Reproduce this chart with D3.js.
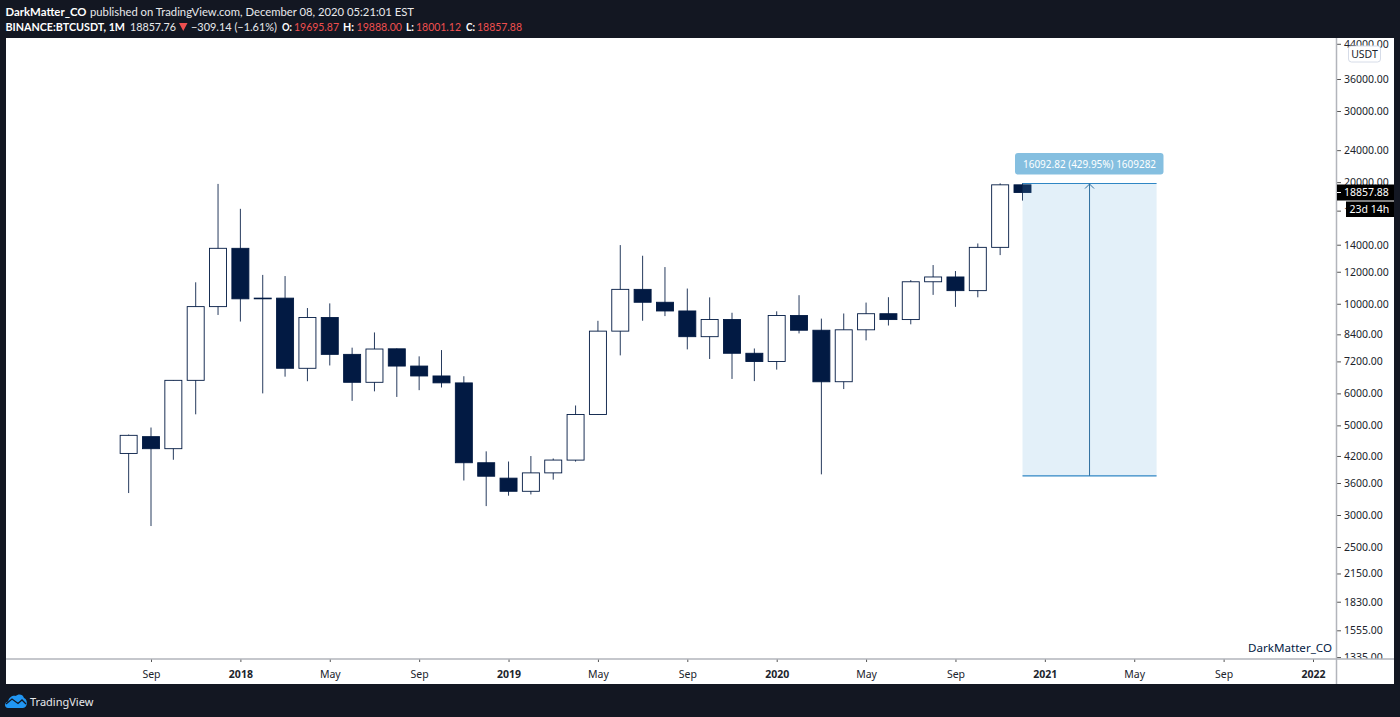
<!DOCTYPE html>
<html><head><meta charset="utf-8">
<script src="https://cdn.jsdelivr.net/npm/d3@7"></script>
<style>
html,body{margin:0;padding:0;background:#131722;overflow:hidden}
svg{display:block}
text{font-family:"Noto Sans",sans-serif}
</style></head><body>
<svg id="c" width="1400" height="717"></svg>
<script>
// Monthly candles, first one is Aug 2017
const opens =[4261,4689,4378,6463,9838,13715,10285,10325,6922,9246,7494,6391,7735,7011,6626,6369,4041,3701,3434,3814,4102,5321,8555,10854,10085,9597,8289,9140,7541,7195,9352,8599,6412,8620,9448,9138,11335,11649,10776,13791,19695.87];
const highs =[4745,4939,6475,11300,19798,17176,11786,11710,9759,10020,7786,8491,7750,7410,7680,6615,4312,4069,4198,4140,5600,9074,13970,13147,12325,10905,10370,9500,7750,9578,10500,9188,9460,10067,10380,11444,12468,12050,14100,19863,19888];
const lows  =[3400,2817,4110,5325,9380,9035,6000,6600,6430,7034,5750,6070,5880,6111,6205,3652,3156,3349,3373,3670,4067,5316,7451,9077,9320,7710,7300,6515,6435,6871,8445,3782,6150,8117,8833,8893,10518,9825,10374,13195,18001.12];
const closes=[4724,4378,6463,9838,13716,10285,10326,6923,9246,7494,6391,7726,7011,6626,6371,4041,3742,3434,3814,4103,5321,8555,10855,10085,9597,8289,9140,7541,7195,9352,8599,6410,8620,9448,9138,11335,11649,10776,13791,19695,18857.88];
const yTicks=[44000,36000,30000,24000,20000,17000,14000,12000,10000,8400,7200,6000,5000,4200,3600,3000,2500,2150,1830,1555,1335];
const xTickIndex=[1,5,9,13,17,21,25,29,33,37,41,45,49,53];
const xTickLabels=["Sep","2018","May","Sep","2019","May","Sep","2020","May","Sep","2021","May","Sep","2022"];
const toolHigh=19842, toolLow=3750, toolFromIndex=40, toolToIndex=46;
const lastPrice="18857.88", countdown="23d 14h", toolLabel="16092.82 (429.95%) 1609282";

const NAVY="#021a43", AXIS="#b2b5bb", TXT="#20242c", HEAD='Lato,sans-serif';
const svg=d3.select("#c");
const x=d3.scaleLinear().domain([1,53]).range([151,1313]);
const y=d3.scaleLog().domain([36000,3000]).range([79,515]);
const bw=17;

svg.append("rect").attr("x",6).attr("y",38).attr("width",1388).attr("height",646).attr("fill","#fff");

const defs=svg.append("defs");
defs.append("clipPath").attr("id","axclip").append("rect").attr("x",1337).attr("y",38).attr("width",57).attr("height",621);

// candles
const g=svg.append("g");
const cs=d3.range(opens.length);
g.selectAll("line.w").data(cs).join("line").attr("class","w")
 .attr("x1",i=>x(i)).attr("x2",i=>x(i)).attr("y1",i=>y(highs[i])).attr("y2",i=>y(lows[i]))
 .attr("stroke",NAVY).attr("stroke-width",1).attr("opacity",.85);
g.selectAll("rect.b").data(cs).join("rect").attr("class","b")
 .attr("x",i=>x(i)-bw/2).attr("width",bw)
 .attr("y",i=>y(Math.max(opens[i],closes[i])))
 .attr("height",i=>Math.max(.5,Math.abs(y(opens[i])-y(closes[i]))))
 .attr("fill",i=>closes[i]>=opens[i]&&i!==6?"#fff":NAVY)
 .attr("stroke",NAVY).attr("stroke-width",.9);

// long-position measure tool
const tx0=x(toolFromIndex), tx1=x(toolToIndex), ty0=y(toolHigh), ty1=y(toolLow), tmid=(tx0+tx1)/2;
const t=svg.append("g");
t.append("rect").attr("x",tx0).attr("y",ty0).attr("width",tx1-tx0).attr("height",ty1-ty0).attr("fill","#5ba8dc").attr("opacity",.17);
t.selectAll("line.e").data([ty0,ty1]).join("line").attr("class","e").attr("x1",tx0).attr("x2",tx1).attr("y1",d=>d).attr("y2",d=>d).attr("stroke","#2f86c4").attr("stroke-width",1.2);
t.append("line").attr("x1",tmid).attr("x2",tmid).attr("y1",ty0).attr("y2",ty1).attr("stroke","#2f6f9f").attr("stroke-width",1);
t.append("path").attr("d",`M${tmid-4.5},${ty0+5}L${tmid},${ty0+.5}L${tmid+4.5},${ty0+5}`).attr("fill","none").attr("stroke","#2f6f9f");
t.append("rect").attr("x",tx0-7.5).attr("y",ty0-30.5).attr("width",148.5).attr("height",21.5).attr("rx",3).attr("fill","#85bfe0");
t.append("text").attr("x",tmid).attr("y",ty0-16).attr("text-anchor","middle").attr("fill","#fff").attr("font-size",10.5).attr("textLength",133).attr("lengthAdjust","spacingAndGlyphs").text(toolLabel);

// y axis
const yAxis=d3.axisRight(y).tickValues(yTicks).tickFormat(d3.format(".2f")).tickSize(4).tickPadding(3);
const ya=svg.append("g").attr("clip-path","url(#axclip)").append("g").attr("transform","translate(1337,0)").call(yAxis);
ya.select(".domain").remove();
ya.selectAll("line").attr("stroke","#555");
ya.selectAll("text").attr("fill",TXT).attr("font-size",10.5).style("font-family",'"Noto Sans",sans-serif');

// x axis
const xAxis=d3.axisBottom(x).tickValues(xTickIndex).tickFormat((d,i)=>xTickLabels[i]).tickSize(3).tickPadding(9);
const xa=svg.append("g").attr("transform","translate(0,659)").call(xAxis);
xa.select(".domain").remove();
xa.selectAll("line").attr("stroke","#555");
xa.selectAll("text").attr("fill",TXT).attr("font-size",10.5).style("font-family",'"Noto Sans",sans-serif')
  .attr("font-weight",(d,i)=>/^\d/.test(xTickLabels[i])?"bold":"normal");

// frame lines
svg.append("line").attr("x1",6).attr("x2",1394).attr("y1",659).attr("y2",659).attr("stroke",AXIS).attr("stroke-width",1.5);
svg.append("line").attr("x1",1336.5).attr("x2",1336.5).attr("y1",38).attr("y2",684).attr("stroke",AXIS).attr("stroke-width",1.5);

// price labels
const pl=svg.append("g");
pl.append("rect").attr("x",1337).attr("y",184.5).attr("width",57).attr("height",16).attr("fill","#000");
pl.append("line").attr("x1",1337).attr("x2",1341).attr("y1",192.5).attr("y2",192.5).attr("stroke","#fff");
pl.append("text").attr("x",1344).attr("y",196).attr("fill","#fff").attr("font-size",10.5).text(lastPrice);
pl.append("rect").attr("x",1346).attr("y",201.5).attr("width",48).attr("height",15.5).attr("fill","#000");
pl.append("text").attr("x",1349.5).attr("y",213).attr("fill","#fff").attr("font-size",10.5).text(countdown);
pl.append("rect").attr("x",1348.5).attr("y",46).attr("width",32).attr("height",16).attr("rx",3).attr("fill","#fff").attr("stroke","#d6dce8");
pl.append("text").attr("x",1364.5).attr("y",58).attr("text-anchor","middle").attr("fill",TXT).attr("font-size",10.5).text("USDT");

// watermark
svg.append("text").attr("x",1332).attr("y",652).attr("text-anchor","end").attr("fill",NAVY).attr("font-size",11.6).text("DarkMatter_CO");

// header
const RED="#ef4f4f", WHITE="#fff", SOFT="#e8e9ec";
const h=svg.append("g").attr("font-size",12);
const head=(px,py,w,txt,fill,bold)=>h.append("text").attr("x",px).attr("y",py).attr("fill",fill).attr("font-weight",bold?"bold":"normal")
  .attr("textLength",w).attr("lengthAdjust","spacingAndGlyphs").style("font-family",HEAD).text(txt);
head(5.5,15.5,81,"DarkMatter_CO",WHITE,true);
head(90,15.5,324,"published on TradingView.com, December 08, 2020 05:21:01 EST",SOFT,false);
head(5.5,31,119.5,"BINANCE:BTCUSDT, 1M",WHITE,true);
head(130,31,46,"18857.76",SOFT,false);
h.append("path").attr("d","M179,23L187.5,23L183.25,31Z").attr("fill",RED);
head(191,31,86,"−309.14 (−1.61%)",SOFT,false);
[["O:",282,10,"19695.87",294,45],["H:",343,11,"19888.00",356.5,45.5],["L:",406,8,"18001.12",416,45],["C:",466,9,"18857.88",477,45]].forEach(([a,ax,aw,b,bx,bw2])=>{
  head(ax,31,aw,a,WHITE,true); head(bx,31,bw2,b,RED,false);
});

// footer logo
const lg=svg.append("g").attr("transform","translate(5,694)");
lg.append("path").attr("d","M3,14C-1,14 -1,8 3,7.5C4,3 8,1 11,2C13,-0.5 18,0 19,4C23,5 23,14 18,14Z").attr("fill","#2196f3");
lg.append("path").attr("d","M1,10L7,5L13,9.5L17,6L21,10").attr("fill","none").attr("stroke","#131722").attr("stroke-width",1.3);
svg.append("text").attr("x",30).attr("y",705.5).attr("fill","#e8e9ec").attr("font-size",11).text("TradingView");
</script>
</body></html>
